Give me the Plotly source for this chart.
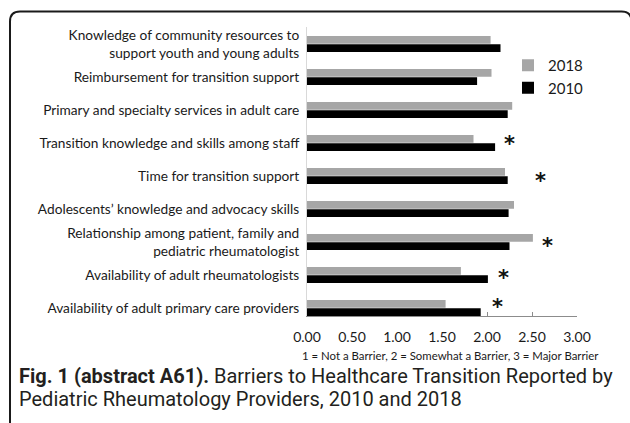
import plotly.graph_objects as go

# Barrier items, top to bottom
barriers = [
    "Knowledge of community resources to<br>support youth and young adults",
    "Reimbursement for transition support",
    "Primary and specialty services in adult care",
    "Transition knowledge and skills among staff",
    "Time for transition support",
    "Adolescents\u2019 knowledge and advocacy skills",
    "Relationship among patient, family and<br>pediatric rheumatologist",
    "Availability of adult rheumatologists",
    "Availability of adult primary care providers",
]

# Mean barrier ratings (1 = not a barrier, 3 = major barrier)
ratings_2018 = [2.04, 2.05, 2.28, 1.85, 2.20, 2.30, 2.51, 1.71, 1.54]
ratings_2010 = [2.15, 1.89, 2.23, 2.09, 2.23, 2.24, 2.25, 2.01, 1.93]

# Items with a significant change between survey years, and where the star sits
significant = [
    "Transition knowledge and skills among staff",
    "Time for transition support",
    "Relationship among patient, family and<br>pediatric rheumatologist",
    "Availability of adult rheumatologists",
    "Availability of adult primary care providers",
]
star_x = [2.25, 2.59, 2.67, 2.18, 2.12]
star_shift = [3, -1, 0, 1, 5]

x_ticks = [0.0, 0.5, 1.0, 1.5, 2.0, 2.5, 3.0]

W, H = 630, 423
L, R, T, B = 307, 53, 27, 107
PW, PH = W - L - R, H - T - B


def px(x):
    return (x - L) / PW


def py(y):
    return 1 - (y - T) / PH


GRAY = "#a6a6a6"
TEXT = "#1a1a1a"
LABEL_FONT = "Lato, Open Sans, sans-serif"

fig = go.Figure()
fig.add_trace(go.Bar(
    y=barriers, x=ratings_2018, orientation="h", name="2018",
    marker=dict(color=GRAY, line=dict(width=0)),
))
fig.add_trace(go.Bar(
    y=barriers, x=ratings_2010, orientation="h", name="2010",
    marker=dict(color="#000000", line=dict(width=0)),
))

for lab, sx, sh in zip(significant, star_x, star_shift):
    fig.add_annotation(
        x=sx, y=lab, xref="x", yref="y", text="<b>*</b>", showarrow=False,
        font=dict(size=21, color="#111", family="DejaVu Sans"),
        yshift=sh - 4,
    )

# Scale legend under the value axis
fig.add_annotation(
    x=px(450), y=py(355), xref="paper", yref="paper",
    text="1 = Not a Barrier, 2 = Somewhat a Barrier, 3 = Major Barrier",
    showarrow=False, xanchor="center", yanchor="middle",
    font=dict(size=11.4, color=TEXT, family=LABEL_FONT),
)

# Figure caption
fig.add_annotation(
    x=px(17), y=py(376), xref="paper", yref="paper",
    text="<b>Fig. 1 (abstract A61).</b> Barriers to Healthcare Transition Reported by",
    showarrow=False, xanchor="left", yanchor="middle",
    font=dict(size=20, color="#231f20", family="Roboto, sans-serif"),
)
fig.add_annotation(
    x=px(17), y=py(399), xref="paper", yref="paper",
    text="Pediatric Rheumatology Providers, 2010 and 2018",
    showarrow=False, xanchor="left", yanchor="middle",
    font=dict(size=20, color="#231f20", family="Roboto, sans-serif"),
)

# Rounded frame around the figure (right side runs just past the page edge)
fl, ft, fr, fb, rr = 10, 11.5, 631.5, 440, 10
frame = (
    f"M {px(fl)},{py(fb)} L {px(fl)},{py(ft + rr)} "
    f"Q {px(fl)},{py(ft)} {px(fl + rr)},{py(ft)} "
    f"L {px(fr - rr)},{py(ft)} "
    f"Q {px(fr)},{py(ft)} {px(fr)},{py(ft + rr)} "
    f"L {px(fr)},{py(fb)}"
)
fig.add_shape(type="path", path=frame, xref="paper", yref="paper",
              line=dict(color="#1a1a1a", width=2))

# Category slots are 33 px tall; first slot centred at y=44
top_val = (T - 44) / 33
bot_val = (H - B - 44) / 33

fig.update_layout(
    width=W, height=H,
    margin=dict(l=L, r=R, t=T, b=B),
    paper_bgcolor="white", plot_bgcolor="white",
    barmode="group", bargap=0.5, bargroupgap=0.06,
    showlegend=True,
    legend=dict(
        x=px(508), y=py(49), xanchor="left", yanchor="top",
        font=dict(size=15, color=TEXT, family=LABEL_FONT),
        bgcolor="rgba(0,0,0,0)", itemwidth=30, tracegroupgap=0,
    ),
    xaxis=dict(
        range=[0, 3], tickvals=x_ticks,
        ticktext=[f"{v:.2f}" for v in x_ticks],
        showgrid=False, zeroline=False,
        showline=True, linecolor="#8c8c8c", linewidth=1,
        ticks="inside", ticklen=4, tickcolor="#8c8c8c",
        tickfont=dict(size=14, color=TEXT, family=LABEL_FONT),
        ticklabelstandoff=8,
        layer="below traces", fixedrange=True,
    ),
    yaxis=dict(
        type="category", categoryorder="array", categoryarray=barriers,
        range=[bot_val, top_val],
        showgrid=False, zeroline=False,
        showline=True, linecolor="#d9d9d9", linewidth=1,
        ticks="", ticklabelstandoff=4,
        tickfont=dict(size=13.7, color=TEXT, family=LABEL_FONT),
        layer="below traces",
    ),
)

fig.write_html("out.html")
